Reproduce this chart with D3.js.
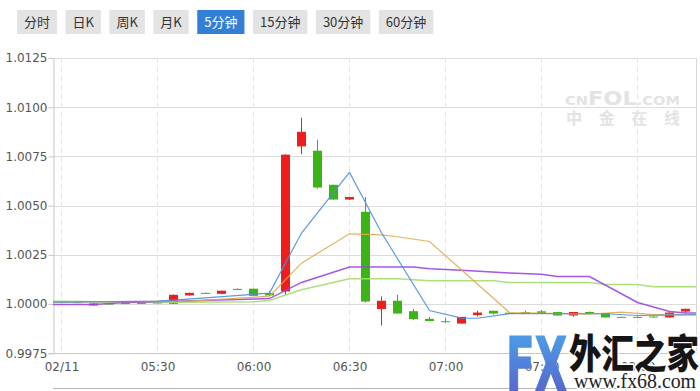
<!DOCTYPE html>
<html><head><meta charset="utf-8">
<script src="https://cdn.jsdelivr.net/npm/d3@7/dist/d3.min.js"></script>
<style>body{margin:0;background:#fff;} svg{display:block}</style>
</head><body>
<svg id="c" width="700" height="391"></svg>
<script>
// ---------- DATA ----------
const buttons = ["分时","日K","周K","月K","5分钟","15分钟","30分钟","60分钟"];
const activeButton = "5分钟";

const times = ["05:00","05:05","05:10","05:15","05:20","05:25","05:30","05:35","05:40","05:45",
  "05:50","05:55","06:00","06:05","06:10","06:15","06:20","06:25","06:30","06:35",
  "06:40","06:45","06:50","06:55","07:00","07:05","07:10","07:15","07:20","07:25",
  "07:30","07:35","07:40","07:45","07:50","07:55","08:00","08:05","08:10","08:15"];

const openP  = [1.00012,1.00010,0.99993,1.00003,1.00005,1.00006,1.00008,1.00002,1.00044,1.00057,
  1.00052,1.00077,1.00078,1.00056,1.00064,1.00801,1.00779,1.00606,1.00531,1.00469,
  0.99975,1.00017,0.99964,0.99925,0.99913,0.99901,0.99944,0.99966,0.99956,0.99959,
  0.99963,0.99960,0.99942,0.99960,0.99954,0.99935,0.99935,0.99937,0.99932,0.99962];
const closeP = [1.00010,1.00009,1.00003,1.00001,1.00004,1.00005,1.00007,1.00047,1.00057,1.00055,
  1.00068,1.00075,1.00042,1.00044,1.00759,1.00875,1.00592,1.00531,1.00544,1.00013,
  1.00017,0.99952,0.99924,0.99914,0.99911,0.99935,0.99957,0.99952,0.99950,0.99952,
  0.99955,0.99942,0.99960,0.99953,0.99932,0.99933,0.99933,0.99932,0.99957,0.99976];
const highP  = [1.00016,1.00012,1.00003,1.00005,1.00007,1.00008,1.00010,1.00049,1.00058,1.00059,
  1.00068,1.00080,1.00078,1.00066,1.00760,1.00947,1.00835,1.00606,1.00544,1.00544,
  1.00039,1.00047,0.99976,0.99935,0.99932,0.99935,0.99966,0.99966,0.99958,0.99967,
  0.99970,0.99960,0.99960,0.99962,0.99954,0.99936,0.99938,0.99937,0.99957,0.99976];
const lowP   = [1.00008,1.00007,0.99993,0.99999,1.00003,1.00004,1.00005,1.00002,1.00044,1.00052,
  1.00052,1.00073,1.00042,1.00040,1.00047,1.00762,1.00587,1.00531,1.00528,1.00008,
  0.99891,0.99952,0.99919,0.99914,0.99905,0.99901,0.99937,0.99947,0.99949,0.99952,
  0.99955,0.99942,0.99936,0.99953,0.99932,0.99933,0.99930,0.99932,0.99932,0.99955];

// moving averages, sampled values (null = not plotted at that candle)
const _ = null;
const ma5  = [1.00010,_,_,_,_,_,1.00015,_,_,1.00032, _,_,_,1.00056,_,1.00361,_,_,1.00669,_,
  1.00362,_,_,0.99967,_,0.99929,0.99928,_,0.99952,_, _,_,_,_,0.99951,_,0.99942,_,_,0.99945];
const ma10 = [1.00010,_,_,_,_,_,_,_,1.00015,_, _,_,_,1.00040,_,1.00208,_,_,1.00357,_,
  1.00352,1.00342,_,1.00318,_,_,_,_,0.99957,_, _,_,_,0.99949,_,0.99959,_,0.99946,_,0.99948];
const ma20 = [0.99998,_,0.99998,_,1.00008,_,_,_,_,_, _,_,_,1.00028,_,1.00110,_,_,1.00188,_,
  _,_,1.00188,1.00180,_,1.00172,_,_,1.00158,_, 1.00152,1.00140,_,1.00140,_,_,1.00008,_,0.99962,0.99955];
const ma30 = [1.00015,_,_,_,_,_,1.00008,_,_,_, _,_,1.00012,1.00018,_,1.00073,_,_,1.00129,_,
  _,1.00129,_,1.00118,_,_,_,1.00118,1.00110,_, _,_,_,1.00110,1.00100,_,1.00100,1.00088,_,1.00088];

const yTicks = [0.9975,1.0000,1.0025,1.0050,1.0075,1.0100,1.0125];
const xTickTimes = ["05:00","05:30","06:00","06:30","07:00","07:30","08:00"];
const xTickLabels = ["02/11","05:30","06:00","06:30","07:00","07:30","08:00"];

// ---------- DRAW ----------
const svg = d3.select("#c");
const L = 53, R = 697, T = 58, B = 353.3;
const cjk = "'Noto Sans CJK SC','Noto Sans',sans-serif";
const axisFont = "'DejaVu Sans',sans-serif";

// buttons
let bx = 17;
const bg = svg.append("g");
buttons.forEach(b => {
  const active = b === activeButton;
  const r = bg.append("rect").attr("y", 10).attr("height", 24).attr("fill", active ? "#3280d6" : "#e3e3e3");
  const t = bg.append("text").text(b).attr("y", 26.5).attr("font-family", cjk).attr("font-size", 13)
    .attr("fill", active ? "#fff" : "#333");
  const w = t.node().getComputedTextLength() + 14;
  r.attr("x", bx).attr("width", w);
  t.attr("x", bx + 7);
  bx += w + 8.5;
});

const x = d3.scaleLinear().domain([0, times.length - 1]).range([61.5, 61.5 + 16 * (times.length - 1)]);
const y = d3.scaleLinear().domain([0.9975, 1.0125]).range([B, T]);

// watermark
const wm = svg.append("g").attr("fill", "#e3e3e3").attr("font-family", "'DejaVu Sans',sans-serif").attr("font-weight", "bold");
const wt = wm.append("text").attr("x", 565).attr("y", 105).attr("textLength", 115).attr("lengthAdjust", "spacingAndGlyphs");
wt.append("tspan").attr("font-size", 13).text("CN");
wt.append("tspan").attr("font-size", 20).text("FOL");
wt.append("tspan").attr("font-size", 13).text(".COM");
wm.append("text").attr("x", 566).attr("y", 124).attr("font-family", cjk).attr("font-size", 16)
  .attr("textLength", 114).attr("lengthAdjust", "spacing").text("中金在线");

// gridlines
svg.append("g").selectAll("line").data(yTicks).join("line")
  .attr("x1", L).attr("x2", R).attr("y1", d => Math.round(y(d)) + 0.5).attr("y2", d => Math.round(y(d)) + 0.5)
  .attr("stroke", "#dcdcdc");
svg.append("g").selectAll("line").data(xTickTimes).join("line")
  .attr("x1", d => Math.floor(x(times.indexOf(d))) + 0.5).attr("x2", d => Math.floor(x(times.indexOf(d))) + 0.5)
  .attr("y1", T).attr("y2", B).attr("stroke", "#e3e3e3").attr("stroke-dasharray", "5,4");
svg.append("line").attr("x1", R - 0.5).attr("x2", R - 0.5).attr("y1", T).attr("y2", B).attr("stroke", "#d8d8d8");

// axes
const yAxis = svg.append("g").attr("transform", `translate(${L + 0.5},0)`)
  .call(d3.axisLeft(y).tickValues(yTicks).tickFormat(d3.format(".4f")).tickSize(5).tickPadding(1));
yAxis.select(".domain").attr("stroke", "#c8c8c8");
yAxis.selectAll(".tick line").attr("stroke", "#c8c8c8");
yAxis.selectAll("text").attr("font-family", axisFont).attr("font-size", 12).attr("fill", "#555");

const xAxis = svg.append("g").attr("transform", `translate(0,${Math.round(B) + 0.5})`)
  .call(d3.axisBottom(x).tickValues(xTickTimes.map(t => times.indexOf(t)))
    .tickFormat((d, i) => xTickLabels[i]).tickSize(0).tickPadding(8.5));
xAxis.select(".domain").attr("d", `M${L},0H${R}`).attr("stroke", "#c8c8c8");
xAxis.selectAll("text").attr("font-family", axisFont).attr("font-size", 12).attr("fill", "#555");

// candles
const data = times.map((t, i) => ({ i, t, o: openP[i], c: closeP[i], h: highP[i], l: lowP[i] }));
const up = d => d.c >= d.o;
const RED = "#f01d1d", GREEN = "#3cb317";
const cg = svg.append("g");
cg.selectAll("line").data(data).join("line")
  .attr("x1", d => Math.floor(x(d.i)) + 0.5).attr("x2", d => Math.floor(x(d.i)) + 0.5)
  .attr("y1", d => y(d.h)).attr("y2", d => y(d.l))
  .attr("stroke", d => up(d) ? RED : GREEN);
cg.selectAll("rect").data(data).join("rect")
  .attr("x", d => x(d.i) - 4.5).attr("width", 9)
  .attr("y", d => Math.min(y(d.o), y(d.c)))
  .attr("height", d => Math.max(1, Math.abs(y(d.o) - y(d.c))))
  .attr("fill", d => up(d) ? RED : GREEN);

// moving averages
const maSeries = [
  { v: ma30, color: "#a3dd6c", w: 1.5 },
  { v: ma20, color: "#9b45e0", w: 1.5 },
  { v: ma10, color: "#e2a84e", w: 1.2 },
  { v: ma5,  color: "#4a8fe0", w: 1.2 }
];
const line = d3.line().x(d => d[0]).y(d => d[1]);
maSeries.forEach(s => {
  const pts = s.v.map((v, i) => v == null ? null : [x(i), y(v)]).filter(p => p);
  pts.unshift([L, pts[0][1]]);
  pts.push([R - 1, pts[pts.length - 1][1]]);
  svg.append("path").attr("d", line(pts)).attr("fill", "none")
    .attr("stroke", s.color).attr("stroke-width", s.w).attr("stroke-opacity", 0.9);
});

// navigator line
svg.append("line").attr("x1", L).attr("x2", 662).attr("y1", 388.5).attr("y2", 388.5).attr("stroke", "#b5b5b5");

// FX68 logo
const defs = svg.append("defs");
const gr = defs.append("linearGradient").attr("id", "fxg").attr("x1", 0).attr("y1", 0).attr("x2", 0).attr("y2", 1);
gr.append("stop").attr("offset", "0%").attr("stop-color", "#4aa8ec");
gr.append("stop").attr("offset", "100%").attr("stop-color", "#5a58c4");
const logo = svg.append("g");
logo.append("text").attr("x", 506).attr("y", 391).attr("font-family", "'DejaVu Sans',sans-serif")
  .attr("font-weight", "bold").attr("font-size", 74).attr("textLength", 61).attr("lengthAdjust", "spacingAndGlyphs")
  .attr("fill", "url(#fxg)").attr("stroke", "url(#fxg)").attr("stroke-width", 1.5).text("FX");
logo.append("text").attr("x", 569).attr("y", 368).attr("font-family", cjk).attr("font-weight", 900)
  .attr("font-size", 40).attr("textLength", 130).attr("lengthAdjust", "spacingAndGlyphs")
  .attr("fill", "#151515").attr("stroke", "#fff").attr("stroke-width", 3).attr("paint-order", "stroke").text("外汇之家");
logo.append("text").attr("x", 574).attr("y", 388).attr("font-family", "'Liberation Serif',serif")
  .attr("font-size", 20).attr("textLength", 122).attr("lengthAdjust", "spacingAndGlyphs")
  .attr("fill", "#222").attr("stroke", "#fff").attr("stroke-width", 2.5).attr("paint-order", "stroke").text("www.fx68.com");
</script>
</body></html>
